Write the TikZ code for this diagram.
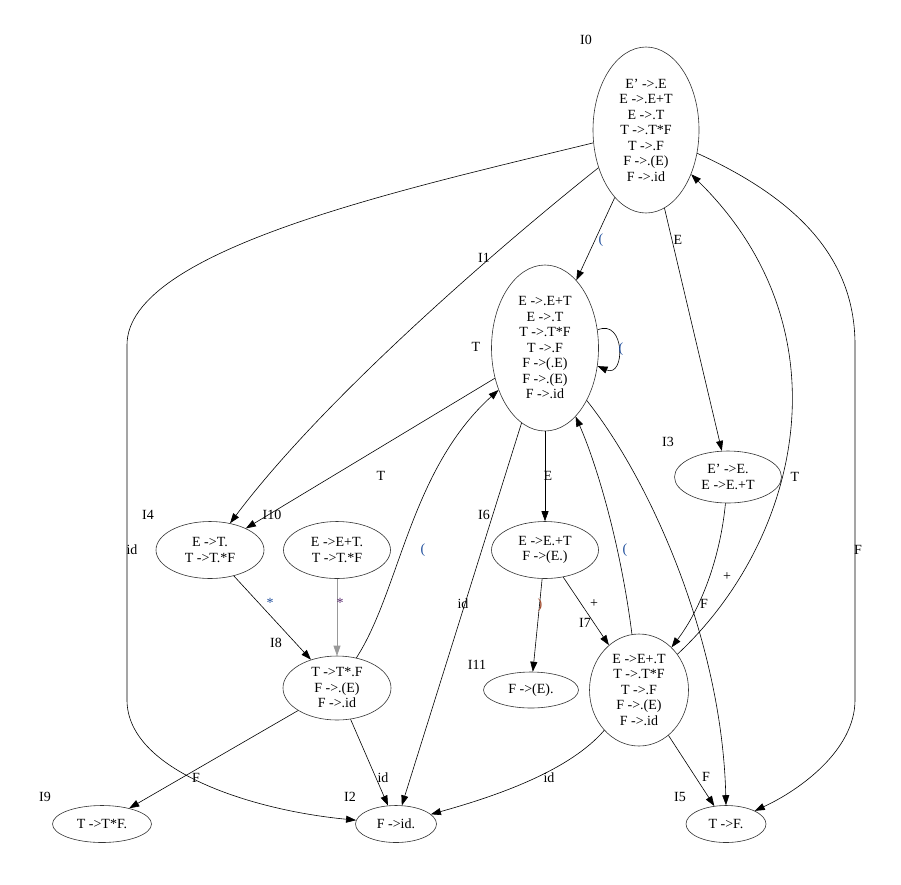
\documentclass[tikz,border=0pt]{standalone}
\usepackage{fontspec}
\setmainfont{Liberation Serif}[Ligatures=ResetAll]
\usetikzlibrary{arrows.meta,shapes.geometric}
\definecolor{symblue}{HTML}{1F4E9C}
\definecolor{sympurple}{HTML}{5A2A6E}
\definecolor{symred}{HTML}{A0482A}
\definecolor{ring}{HTML}{333333}
\tikzset{
  font=\fontsize{14}{15.5}\selectfont,
  state/.style={ellipse, draw=ring, line width=0.6pt, inner sep=0pt, align=center},
  tag/.style={inner sep=0pt},
  sym/.style={inner sep=0pt},
  trans/.style={-{Triangle[length=10pt,width=7pt]}, draw=black, line width=0.6pt},
  greytrans/.style={trans, draw=black!40}
}

\begin{document}
\begin{tikzpicture}[x=1pt,y=-1pt]
  \useasboundingbox[fill=white] (0,0) rectangle (901,884);

  % states
  \node[state, minimum width=106pt, minimum height=166pt] (I0) at (646,130) {E' ->.E\\E ->.E+T\\E ->.T\\T ->.T*F\\T ->.F\\F ->.(E)\\F ->.id};
  \node[state, minimum width=107pt, minimum height=166pt] (I1) at (545,348) {E ->.E+T\\E ->.T\\T ->.T*F\\T ->.F\\F ->(.E)\\F ->.(E)\\F ->.id};
  \node[state, minimum width=107pt, minimum height=52pt] (I3) at (728,477) {E' ->E.\\E ->E.+T};
  \node[state, minimum width=108pt, minimum height=57pt] (I4) at (210,550) {E ->T.\\T ->T.*F};
  \node[state, minimum width=107pt, minimum height=57pt] (I10) at (337,550) {E ->E+T.\\T ->T.*F};
  \node[state, minimum width=107pt, minimum height=57pt] (I6) at (545,550) {E ->E.+T\\F ->(E.)};
  \node[state, minimum width=95pt, minimum height=36pt] (I11) at (531,690) {F ->(E).};
  \node[state, minimum width=108pt, minimum height=64pt] (I8) at (337,688) {T ->T*.F\\F ->.(E)\\F ->.id};
  \node[state, minimum width=99pt, minimum height=112pt] (I7) at (639,690) {E ->E+.T\\T ->.T*F\\T ->.F\\F ->.(E)\\F ->.id};
  \node[state, minimum width=99pt, minimum height=37pt] (I9) at (102,824) {T ->T*F.};
  \node[state, minimum width=81pt, minimum height=37pt] (I2) at (396,824) {F ->id.};
  \node[state, minimum width=80pt, minimum height=37pt] (I5) at (726,824) {T ->F.};

  % state tags
  \node[tag] (tI0) at (586,40) {I0};
  \node[tag] (tI1) at (484,258) {I1};
  \node[tag] (tI3) at (668,442) {I3};
  \node[tag] (tI4) at (148,515) {I4};
  \node[tag] (tI10) at (272,515) {I10};
  \node[tag] (tI6) at (484,515) {I6};
  \node[tag] (tI11) at (477,665) {I11};
  \node[tag] (tI7) at (585,623) {I7};
  \node[tag] (tI8) at (276,643) {I8};
  \node[tag] (tI9) at (45,797) {I9};
  \node[tag] (tI2) at (350,797) {I2};
  \node[tag] (tI5) at (680,797) {I5};

  % transitions
  \draw[trans] (I0) -- (I1);
  \draw[trans] (I0) -- (I3);
  \draw[trans] (I0) .. controls (520,230) and (330,390) .. (I4);
  \draw[trans] (I0) .. controls (400,190) and (127,250) .. (127,345) -- (127,700) .. controls (127,770) and (250,810) .. (I2);
  \draw[trans] (I0) .. controls (800,200) and (855,260) .. (855,345) -- (855,700) .. controls (855,750) and (800,790) .. (I5);
  \draw[trans] (I1.19) .. controls +(28,-12) and +(28,12) .. (I1.-19);
  \draw[trans] (I1) -- (I4);
  \draw[trans] (I1) -- (I6);
  \draw[trans] (I1) -- (I2);
  \draw[trans] (I1) .. controls (650,480) and (722,640) .. (I5.north);
  \draw[trans] (I3) .. controls (720,560) and (700,610) .. (I7);
  \draw[trans] (I4) -- (I8);
  \draw[greytrans] (I10) -- (I8);
  \draw[trans] (I8) .. controls (400,590) and (410,470) .. (I1);
  \draw[trans] (I8) -- (I9);
  \draw[trans] (I8) -- (I2);
  \draw[trans] (I6) -- (I11);
  \draw[trans] (I6) -- (I7);
  \draw[trans] (I7) .. controls (620,540) and (595,460) .. (I1);
  \draw[trans] (I7) .. controls (800,540) and (850,330) .. (I0);
  \draw[trans] (I7) .. controls (570,770) and (500,795) .. (I2);
  \draw[trans] (I7) -- (I5);

  % transition symbols
  \node[sym, text=symblue] (s01) at (601,240) {(};
  \node[sym] (s03) at (678,240) {E};
  \node[sym] (s04) at (476,347) {T};
  \node[sym] (s02) at (132,550) {id};
  \node[sym] (s05) at (858,550) {F};
  \node[sym, text=symblue] (s11) at (621,349) {(};
  \node[sym] (s14) at (381,476) {T};
  \node[sym] (s16) at (548,476) {E};
  \node[sym] (s12) at (463,604) {id};
  \node[sym] (s15) at (704,604) {F};
  \node[sym] (s37) at (727,577) {+};
  \node[sym, text=symblue] (s48) at (270,603) {*};
  \node[sym, text=sympurple] (s108) at (340,603) {*};
  \node[sym, text=symblue] (s81) at (423,550) {(};
  \node[sym, text=symred] (s611) at (540,605) {)};
  \node[sym] (s67) at (594,604) {+};
  \node[sym, text=symblue] (s71) at (625,550) {(};
  \node[sym] (s70) at (795,477) {T};
  \node[sym] (s89) at (196,778) {F};
  \node[sym] (s82) at (383,778) {id};
  \node[sym] (s72) at (549,778) {id};
  \node[sym] (s75) at (706,777) {F};
\end{tikzpicture}
\end{document}
